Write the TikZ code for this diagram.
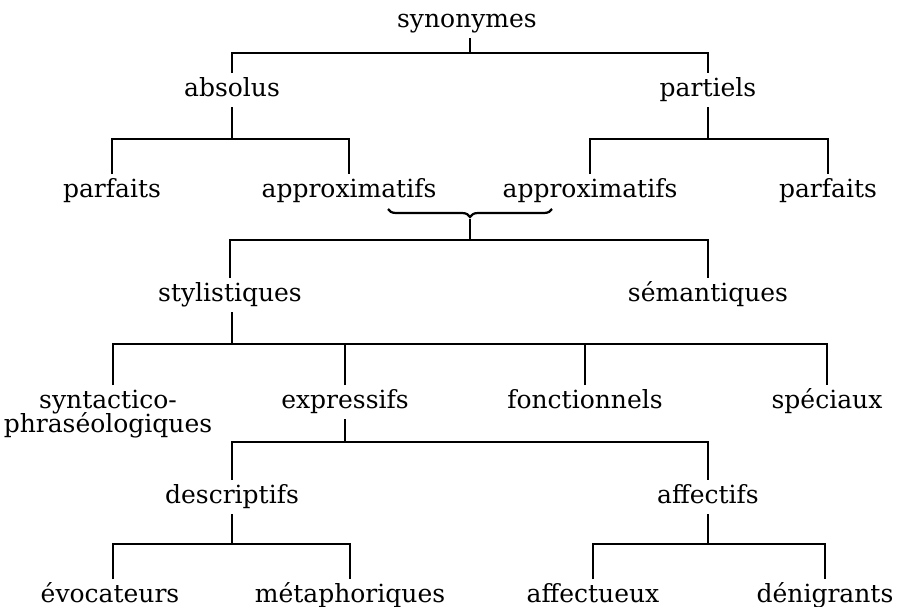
\documentclass[tikz,border=0pt]{standalone}
\usepackage{fontspec}
\setmainfont{DejaVu Serif}
\usetikzlibrary{decorations.pathreplacing}

\begin{document}
\begin{tikzpicture}[x=0.5pt,y=-0.5pt, line width=0.7pt,
    lbl/.style={font=\fontsize{12.5}{12}\selectfont, inner sep=0pt, outer sep=2.5pt,
      text height=9pt, text depth=3pt},
    lbltwo/.style={font=\fontsize{12.5}{12}\selectfont, inner sep=0pt, outer sep=2.5pt,
      align=center}]
  \useasboundingbox (0,0) rectangle (899,606);
  % labels
  \node[lbl] (syn) at (467,21) {synonymes};
  \node[lbl] (abs) at (232,90) {absolus};
  \node[lbl] (par) at (708,90) {partiels};
  \node[lbl] (parfA) at (112,191) {parfaits};
  \node[lbl] (apxA) at (349,191) {approximatifs};
  \node[lbl] (apxB) at (590,191) {approximatifs};
  \node[lbl] (parfB) at (828,191) {parfaits};
  \node[lbl] (sty) at (230,295) {stylistiques};
  \node[lbl] (sem) at (708,295) {sémantiques};
  \node[lbltwo, anchor=base] (synt) at (108,432) {syntactico-\\[-2pt]phraséologiques};
  \node[lbl] (exp) at (345,402) {expressifs};
  \node[lbl] (fon) at (585,402) {fonctionnels};
  \node[lbl] (spe) at (827,402) {spéciaux};
  \node[lbl] (des) at (232,497) {descriptifs};
  \node[lbl] (aff) at (708,497) {affectifs};
  \node[lbl] (evo) at (110,596) {évocateurs};
  \node[lbl] (met) at (350,596) {métaphoriques};
  \node[lbl] (affu) at (593,596) {affectueux};
  \node[lbl] (den) at (825,596) {dénigrants};

  % junctions
  \coordinate (jA) at (470,53);
  \coordinate (jB) at (232,139);
  \coordinate (jC) at (708,139);
  \coordinate (brL) at (388,209);
  \coordinate (brR) at (552,209);
  \coordinate (brTip) at (470,219);
  \coordinate (jD) at (470,240);
  \coordinate (jE) at (232,344);
  \coordinate (jEl) at (113,344);
  \coordinate (jF) at (345,442);
  \coordinate (jG) at (232,544);
  \coordinate (jH) at (708,544);

  % tree
  \draw (syn.south -| jA) -- (jA);
  \draw (abs.north) |- (jA) -| (par.north);
  \draw (abs.south) -- (jB);
  \draw (parfA.north) |- (jB) -| (apxA.north);
  \draw (par.south) -- (jC);
  \draw (apxB.north) |- (jC) -| (parfB.north);
  \draw[line width=1.1pt, decorate, decoration={brace, mirror, amplitude=4pt}] (brL) -- (brR);
  \draw (brTip) -- (jD);
  \draw (sty.north) |- (jD) -| (sem.north);
  \draw (sty.south -| jE) -- (jE);
  \draw (jEl |- spe.north) |- (jE) -| (spe.north);
  \draw (exp.north) -- (exp.north |- jE);
  \draw (fon.north) -- (fon.north |- jE);
  \draw (exp.south) -- (jF);
  \draw (des.north) |- (jF) -| (aff.north);
  \draw (des.south) -- (jG);
  \draw (evo.north -| 113,0) |- (jG) -| (met.north);
  \draw (aff.south) -- (jH);
  \draw (affu.north) |- (jH) -| (den.north);
\end{tikzpicture}
\end{document}
